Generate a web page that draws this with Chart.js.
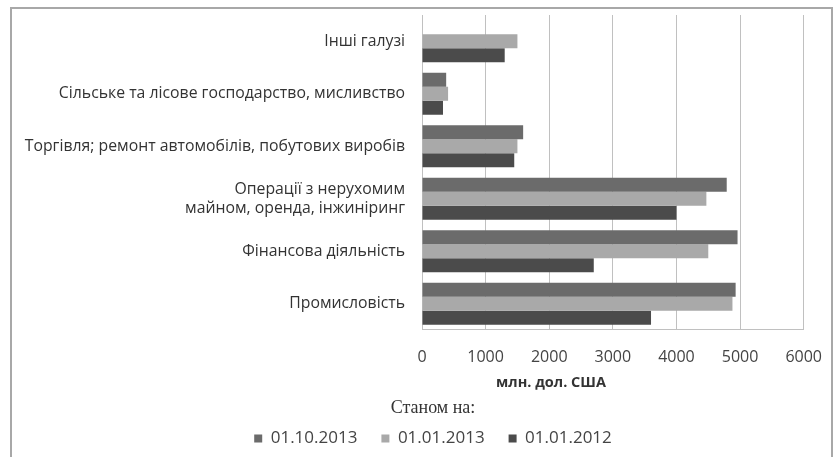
<!DOCTYPE html>
<html>
<head>
<meta charset="utf-8">
<script src="https://cdn.jsdelivr.net/npm/chart.js@4"></script>
<style>
  html, body { margin: 0; padding: 0; background: #fff; }
  #wrap { position: relative; width: 840px; height: 457px; overflow: hidden; }
  #frame {
    position: absolute; left: 10px; top: 7px; width: 823px; height: 470px;
    border: 2px solid #a8a8a8; box-sizing: border-box;
  }
  #chart { position: absolute; left: 0; top: 0; }
</style>
</head>
<body>
<div id="wrap">
  <div id="frame"></div>
  <canvas id="chart" width="840" height="457"></canvas>
</div>
<script>
// ------------------------------------------------------------
// DATA
// ------------------------------------------------------------
const categories = [
  "Інші галузі",
  "Сільське та лісове господарство, мисливство",
  "Торгівля; ремонт автомобілів, побутових виробів",
  ["Операції з нерухомим", "майном, оренда, інжиніринг"],
  "Фінансова діяльність",
  "Промисловість"
];

const seriesNames = ["01.10.2013", "01.01.2013", "01.01.2012"];

const values_2013_10 = [null, 380, 1590, 4790, 4960, 4930];
const values_2013_01 = [1500, 410, 1500, 4470, 4500, 4880];
const values_2012_01 = [1300, 330, 1450, 4000, 2700, 3600];

const xTicks = [0, 1000, 2000, 3000, 4000, 5000, 6000];

const axisTitle = "млн. дол. США";
const legendTitle = "Станом на:";

const colors = ["#6b6b6b", "#a9a9a9", "#4b4b4b"];

// ------------------------------------------------------------
// SMALL PLUGINS
// ------------------------------------------------------------
// axis title sits left of the plot centre, like the original
const axisTitlePlugin = {
  id: "axisTitle",
  afterDraw(chart) {
    const ctx = chart.ctx;
    ctx.save();
    ctx.font = "bold 14.5px 'Open Sans'";
    ctx.fillStyle = "#333";
    ctx.textAlign = "center";
    ctx.textBaseline = "middle";
    ctx.fillText(axisTitle, 551, 383);
    ctx.restore();
  }
};

// legend is centred under the plot rather than the whole canvas
const legendShift = {
  id: "legendShift",
  afterLayout(chart) {
    const lg = chart.legend;
    if (!lg) return;
    lg.left += 25;
    lg.right += 25;
  }
};

const ctx = document.getElementById("chart").getContext("2d");

new Chart(ctx, {
  type: "bar",
  data: {
    labels: categories,
    datasets: [
      { label: seriesNames[0], data: values_2013_10, backgroundColor: colors[0] },
      { label: seriesNames[1], data: values_2013_01, backgroundColor: colors[1] },
      { label: seriesNames[2], data: values_2012_01, backgroundColor: colors[2] }
    ]
  },
  options: {
    indexAxis: "y",
    responsive: false,
    animation: false,
    categoryPercentage: 0.8,
    barPercentage: 1.0,
    layout: { padding: { left: 12, right: 36, top: 15, bottom: 0 } },
    plugins: {
      tooltip: { enabled: false },
      legend: {
        position: "bottom",
        title: {
          display: true,
          text: legendTitle,
          font: { family: "'Liberation Serif'", size: 18 },
          color: "#333",
          padding: { top: 0, bottom: -15 }
        },
        labels: {
          boxWidth: 8,
          boxHeight: 8,
          padding: 24,
          color: "#444",
          font: { family: "'Open Sans'", size: 17 }
        }
      }
    },
    scales: {
      x: {
        min: 0,
        max: 6000,
        afterBuildTicks: scale => { scale.ticks = xTicks.map(v => ({ value: v })); },
        afterFit: scale => { scale.height = 69.5; },
        grid: { color: "#c0c0c0", drawTicks: false },
        border: { color: "#c0c0c0" },
        ticks: {
          padding: 18,
          color: "#444",
          font: { family: "'Open Sans'", size: 16 },
          callback: v => String(v)
        }
      },
      y: {
        afterFit: scale => { scale.width = 410; },
        grid: { color: "transparent", tickColor: "transparent", drawTicks: true, tickLength: 17 },
        border: { color: "#c0c0c0" },
        ticks: {
          padding: 0,
          autoSkip: false,
          color: "#333",
          font: { family: "'Open Sans'", size: 15.8 }
        }
      }
    }
  },
  plugins: [axisTitlePlugin, legendShift]
});
</script>
</body>
</html>
